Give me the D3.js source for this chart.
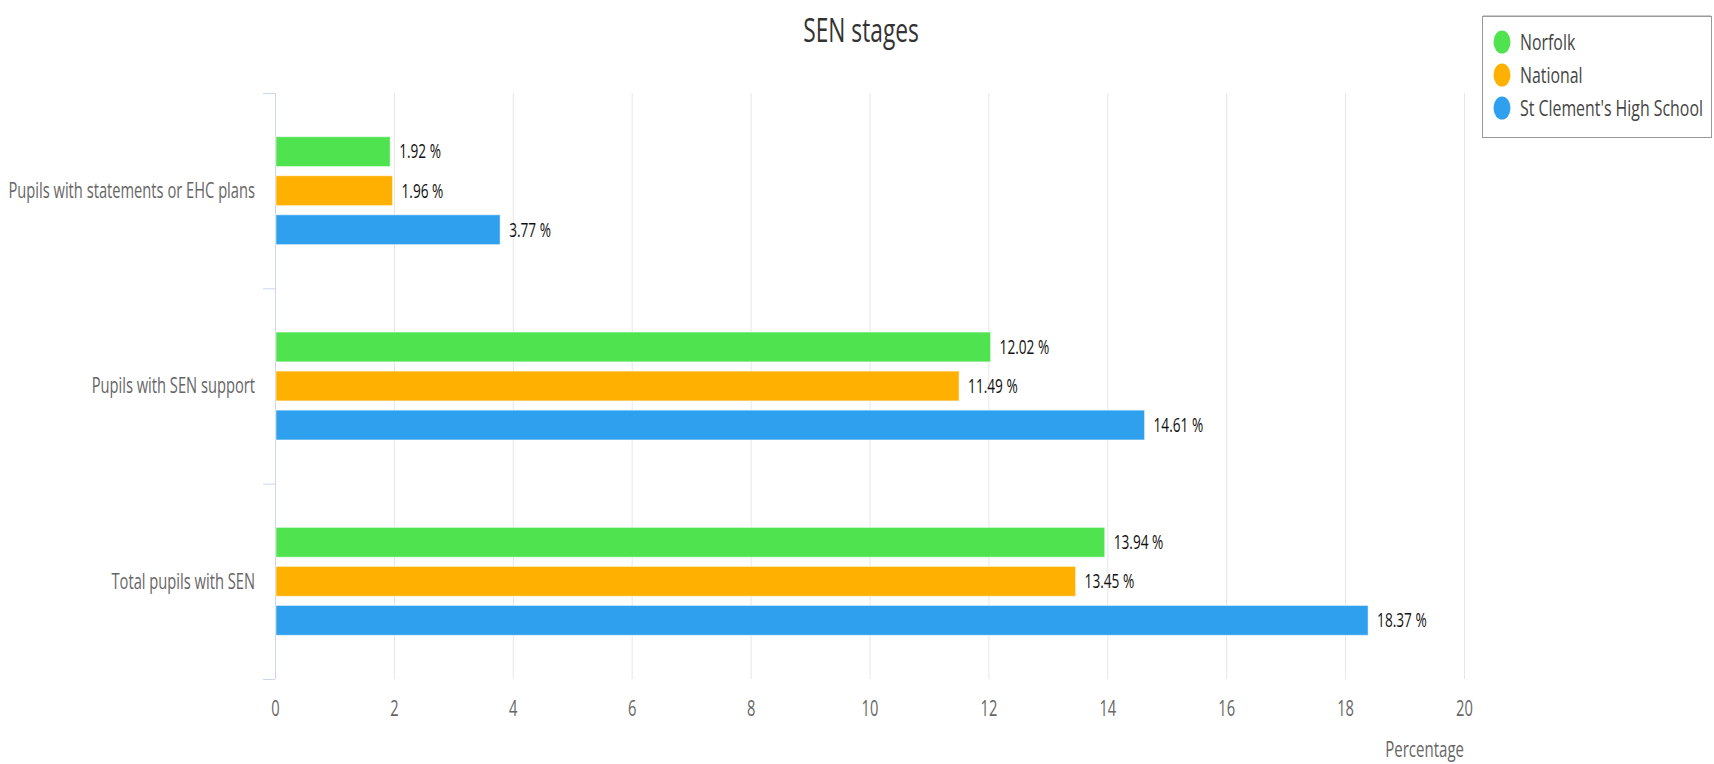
<!DOCTYPE html>
<html>
  <head>
    <meta charset="utf-8">
    <script src="https://d3js.org/d3.v7.min.js"></script>
    <title>SEN stages</title>
    <style>
      body { margin: 0; background: #fff; }
      text { font-family: "Open Sans", sans-serif; }
    </style>
  </head>
  <body>
    <svg width="1714" height="764"></svg>
    <script>
      // chart data
      const categories = ['Pupils with statements or EHC plans', 'Pupils with SEN support', 'Total pupils with SEN'];
      const seriesNames = ['Norfolk', 'National', "St Clement's High School"];
      const norfolk = [1.92, 12.02, 13.94];
      const national = [1.96, 11.49, 13.45];
      const stClements = [3.77, 14.61, 18.37];
      const xTicks = [0, 2, 4, 6, 8, 10, 12, 14, 16, 18, 20];
      const colors = ['#50e350', '#ffb000', '#2fa0ee'];

      const seriesValues = [norfolk, national, stClements];

      const svg = d3.select('svg');
      // the reference text is squeezed sideways
      const sx = 0.7;

      const putText = (sel, x, y, anchor) => sel
        .attr('text-anchor', anchor)
        .attr('transform', `translate(${x},${y}) scale(${sx},1)`);

      const xScale = d3.scaleLinear().domain([0, 20]).range([275, 1464]);
      const yScale = d3.scaleBand().domain(categories).range([93, 679]);
      const ySub = d3.scaleBand().domain(seriesNames)
        .range([0, yScale.bandwidth()])
        .paddingInner(0.236)
        .paddingOuter(1.12);

      // vertical grid lines
      svg.append('g').selectAll('line').data(xTicks.slice(1))
        .enter().append('line')
          .attr('x1', d => xScale(d) + 0.5)
          .attr('x2', d => xScale(d) + 0.5)
          .attr('y1', 93)
          .attr('y2', 679)
          .attr('stroke', '#e6e6e6');

      // category axis line and ticks
      svg.append('line')
        .attr('x1', 275.5).attr('x2', 275.5)
        .attr('y1', 93).attr('y2', 679)
        .attr('stroke', '#ccd6eb');
      const bounds = categories.map(c => yScale(c)).concat([679]);
      svg.append('g').selectAll('line').data(bounds)
        .enter().append('line')
          .attr('x1', 263).attr('x2', 275)
          .attr('y1', d => d + 0.5).attr('y2', d => d + 0.5)
          .attr('stroke', '#ccd6eb');

      // category labels
      svg.append('g').selectAll('text').data(categories)
        .enter().append('text')
          .text(d => d)
          .attr('fill', '#666')
          .attr('font-size', 21)
          .attr('dy', '0.35em')
          .each(function(d) { putText(d3.select(this), 255, yScale(d) + yScale.bandwidth() / 2, 'end'); });

      // bars
      seriesValues.forEach((vals, si) => {
        const g = svg.append('g');
        g.selectAll('rect').data(vals)
          .enter().append('rect')
            .attr('x', xScale(0) + 1)
            .attr('y', (d, i) => yScale(categories[i]) + ySub(seriesNames[si]))
            .attr('width', d => xScale(d) - xScale(0))
            .attr('height', ySub.bandwidth())
            .attr('fill', colors[si])
            .attr('stroke', '#fff')
            .attr('stroke-opacity', 0.5);
        g.selectAll('text').data(vals)
          .enter().append('text')
            .text(d => d.toFixed(2) + ' %')
            .attr('fill', '#111')
            .attr('font-size', 19.5)
            .attr('dy', '0.35em')
            .each(function(d, i) {
              putText(d3.select(this), xScale(d) + 10,
                yScale(categories[i]) + ySub(seriesNames[si]) + ySub.bandwidth() / 2, 'start');
            });
      });

      // x tick labels
      svg.append('g').selectAll('text').data(xTicks)
        .enter().append('text')
          .text(d => d)
          .attr('fill', '#666')
          .attr('font-size', 21)
          .attr('dy', '0.35em')
          .each(function(d) { putText(d3.select(this), xScale(d) + 0.5, 709, 'middle'); });

      // axis title
      svg.append('text')
        .text('Percentage')
        .attr('fill', '#666')
        .attr('font-size', 21.5)
        .call(s => putText(s, 1464, 757, 'end'));

      // chart title
      svg.append('text')
        .text('SEN stages')
        .attr('fill', '#333')
        .attr('font-size', 32.5)
        .call(s => putText(s, 861, 42, 'middle'));

      // legend
      const legend = svg.append('g');
      legend.append('rect')
        .attr('x', 1482.5).attr('y', 16.5)
        .attr('width', 229).attr('height', 121)
        .attr('fill', '#fff')
        .attr('stroke', '#999');
      legend.append('line')
        .attr('x1', 1483).attr('x2', 1711)
        .attr('y1', 15.5).attr('y2', 15.5)
        .attr('stroke', '#ccc');
      const legendY = [42, 75, 108];
      seriesNames.forEach((name, i) => {
        legend.append('ellipse')
          .attr('cx', 1502).attr('cy', legendY[i])
          .attr('rx', 8.5).attr('ry', 11.5)
          .attr('fill', colors[i]);
        legend.append('text')
          .text(name)
          .attr('fill', '#444')
          .attr('font-size', 22.7)
          .attr('dy', '0.35em')
          .call(s => putText(s, 1520, legendY[i], 'start'));
      });
    </script>
  </body>
</html>
